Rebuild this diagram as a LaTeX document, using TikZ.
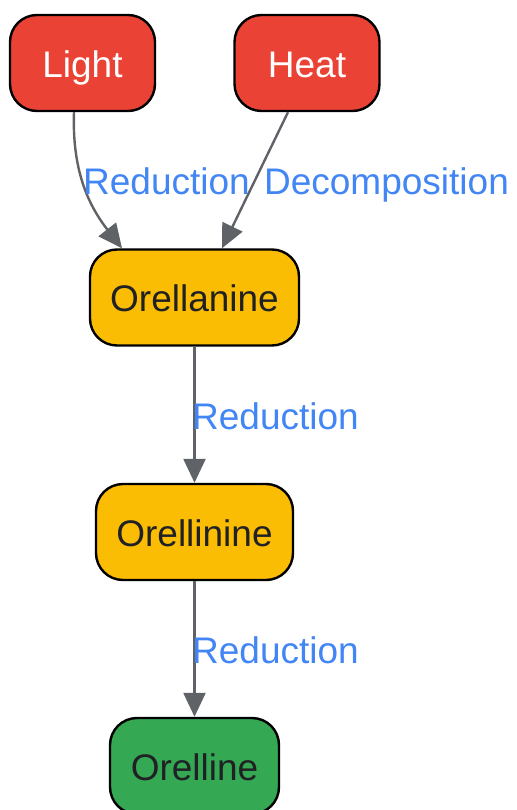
\documentclass[tikz,border=0pt]{standalone}
\usepackage{fontspec}
\setmainfont{Liberation Sans}
\usetikzlibrary{arrows.meta,positioning,shapes}
\definecolor{srcred}{HTML}{EA4335}
\definecolor{toxyellow}{HTML}{FBBC04}
\definecolor{endgreen}{HTML}{34A853}
\definecolor{edgegray}{HTML}{5F6368}
\definecolor{lblblue}{HTML}{4285F4}
\definecolor{txtdark}{HTML}{202124}
\tikzset{
	boxnode/.style={draw=black,line width=2.4pt,rounded corners=27pt,minimum height=96pt,
		inner sep=0pt,text height=31pt,text depth=2.6pt,font=\fontsize{37}{42}\selectfont},
	srcnode/.style={boxnode,fill=srcred,text=white,minimum width=145pt},
	toxnode/.style={boxnode,fill=toxyellow,text=txtdark},
	endnode/.style={boxnode,fill=endgreen,text=txtdark},
	edge/.style={draw=edgegray,line width=2.4pt,-{Triangle[length=24pt,width=22pt]}},
	lbl/.style={text=lblblue,inner sep=0pt,font=\fontsize{37}{42}\selectfont},
}
\begin{document}
\begin{tikzpicture}[x=1pt,y=-1pt]
	\useasboundingbox (0,0) rectangle (516,810);
	% sources
	\node [srcnode] (light) at (82.5,63) {Light};
	\node [srcnode] (heat) at (307,63) {Heat};
	% toxins
	\node [toxnode,minimum width=209pt] (orellanine) at (194.5,297.5) {Orellanine};
	\node [toxnode,minimum width=197pt] (orellinine) at (194.5,532) {Orellinine};
	\node [endnode,minimum width=169pt] (orelline) at (194.5,766) {Orelline};
	% connectors
	\draw [edge] ([xshift=-8.5pt]light.south) to[out=-92,in=128] ([xshift=-72.5pt]orellanine.north);
	\draw [edge] ([xshift=-19pt]heat.south) -- ([xshift=27.5pt]orellanine.north);
	\draw [edge] (orellanine) -- (orellinine);
	\draw [edge] (orellinine) -- (orelline);
	% labels
	\node [lbl,anchor=base] (lred1) at (166.5,195) {Reduction};
	\node [lbl,anchor=base] (ldec) at (386.5,195) {Decomposition};
	\node [lbl,anchor=base west] (lred2) at (192,429) {Reduction};
	\node [lbl,anchor=base west] (lred3) at (192,663) {Reduction};
\end{tikzpicture}
\end{document}
